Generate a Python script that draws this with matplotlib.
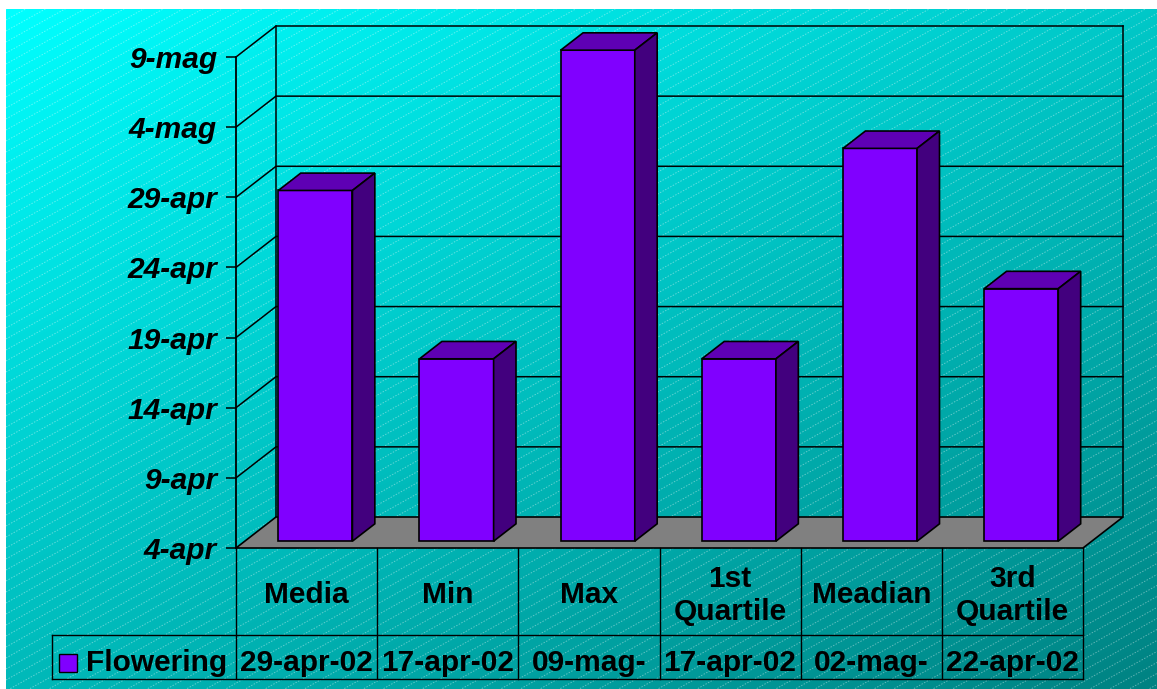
import numpy as np
import matplotlib
matplotlib.use("Agg")
import matplotlib.pyplot as plt
import matplotlib.dates as mdates
from matplotlib.patches import Polygon, Rectangle
from matplotlib.transforms import IdentityTransform
from matplotlib.lines import Line2D
from datetime import date, timedelta

# ---------------- data ----------------
categories = ["Media", "Min", "Max", "1st\nQuartile", "Meadian", "3rd\nQuartile"]
values = [date(2002, 4, 29), date(2002, 4, 17), date(2002, 5, 9),
          date(2002, 4, 17), date(2002, 5, 2), date(2002, 4, 22)]
table_labels = ["29-apr-02", "17-apr-02", "09-mag-", "17-apr-02", "02-mag-", "22-apr-02"]
series_name = "Flowering"
y_min = date(2002, 4, 4)
y_max = date(2002, 5, 9)
tick_step_days = 5
month_names = {4: "apr", 5: "mag"}

# ---------------- style / layout ----------------
W, H = 1157, 689
DPI = 100
FRONT_FACE = "#8000FF"
TOP_FACE = "#5E00B4"
SIDE_FACE = "#42007E"
FLOOR = "#808080"
DEPTH = (40, 31)          # pixel offset of the back wall
BAR_Z = (0.22, 0.78)      # bar front/back depth fraction
BAR_W = 0.525             # bar width in category units
FONT = "Liberation Sans"
FS = 21.5

fig = plt.figure(figsize=(W / DPI, H / DPI), dpi=DPI)
fig.patch.set_facecolor("white")

# background: diagonal gradient + dashed white stripes
bg = fig.add_axes([6 / W, 0, 1 - 6 / W, (H - 9) / H], zorder=0)
bw, bh = W - 6, H - 9
xx, yy = np.meshgrid(np.linspace(0, 1, 300), np.linspace(0, 1, 200))
c = (255 - 55 * xx - 70 * yy) / 255.0
img = np.dstack([np.zeros_like(c), c, c])
bg.imshow(img, extent=(0, bw, bh, 0), aspect="auto", interpolation="bilinear")
slope = 0.56
for k in np.arange(0, bh + bw * slope + 20, 11.0):
    xs = np.array([0, bw])
    bg.plot(xs, k - slope * xs, color="white", lw=0.7, alpha=0.38,
            ls=(0, (1.5, 1.5)))
bg.set_xlim(0, bw)
bg.set_ylim(bh, 0)
bg.axis("off")

# main (front plane) axes
left, right, top, bottom = 236, 1083, 57, 548
ax = fig.add_axes([left / W, (H - bottom) / H, (right - left) / W, (bottom - top) / H], zorder=1)
ax.patch.set_alpha(0)
n = len(categories)
ymin_n = mdates.date2num(y_min)
ymax_n = mdates.date2num(y_max)
ax.set_xlim(0, n)
ax.set_ylim(ymin_n, ymax_n)

ticks = []
d = y_min
while d <= y_max:
    ticks.append(d)
    d += timedelta(days=tick_step_days)
ax.set_yticks([mdates.date2num(t) for t in ticks])
ax.set_yticklabels([f"{t.day}-{month_names[t.month]}" for t in ticks],
                   fontfamily=FONT, fontweight="bold", fontstyle="italic", fontsize=FS)
ax.tick_params(axis="y", length=7.2, width=1.1, pad=6.5, direction="out")
ax.set_xticks([])
for s in ["top", "right", "bottom"]:
    ax.spines[s].set_visible(False)
ax.spines["left"].set_linewidth(1.3)


def proj(x, y, z):
    px, py = ax.transData.transform((x, y))
    return (px + DEPTH[0] * z, py + DEPTH[1] * z)


def poly(pts, fc, lw=1.2, zo=2):
    p = Polygon(pts, closed=True, facecolor=fc, edgecolor="black", lw=lw,
                transform=IdentityTransform(), clip_on=False, zorder=zo,
                joinstyle="miter")
    ax.add_artist(p)


def line(pts, lw=1.1, zo=1.5):
    xs, ys = zip(*pts)
    l = Line2D(xs, ys, color="black", lw=lw, transform=IdentityTransform(),
               clip_on=False, zorder=zo)
    ax.add_artist(l)


# walls & gridlines
for t in ticks[1:]:
    tn = mdates.date2num(t)
    line([proj(0, tn, 0), proj(0, tn, 1), proj(n, tn, 1)])
line([proj(0, ymin_n, 1), proj(0, ymax_n, 1)])
line([proj(n, ymin_n, 1), proj(n, ymax_n, 1)])

# floor
poly([proj(0, ymin_n, 0), proj(0, ymin_n, 1), proj(n, ymin_n, 1), proj(n, ymin_n, 0)],
     FLOOR, lw=1.2, zo=1.8)

# bars
z0, z1 = BAR_Z
for i, v in enumerate(values):
    vn = mdates.date2num(v)
    x0 = i + 0.5 - BAR_W / 2
    x1 = i + 0.5 + BAR_W / 2
    poly([proj(x0, ymin_n, z0), proj(x1, ymin_n, z0), proj(x1, vn, z0), proj(x0, vn, z0)],
         FRONT_FACE, zo=3)
    poly([proj(x0, vn, z0), proj(x1, vn, z0), proj(x1, vn, z1), proj(x0, vn, z1)],
         TOP_FACE, zo=3)
    poly([proj(x1, ymin_n, z0), proj(x1, ymin_n, z1), proj(x1, vn, z1), proj(x1, vn, z0)],
         SIDE_FACE, zo=3)

# data table
HEAD_H, ROW_H = 87, 44
LEG_LEFT = 52
bx, by = ax.transData.transform((0, ymin_n))
y_head = by - HEAD_H
y_row = y_head - ROW_H
x_end = ax.transData.transform((n, ymin_n))[0]
for i in range(n + 1):
    px, _ = ax.transData.transform((i, ymin_n))
    line([(px, by), (px, y_row)], lw=1.0, zo=2)
line([(LEG_LEFT, y_head), (x_end, y_head)], lw=1.0, zo=2)
line([(LEG_LEFT, y_row), (x_end, y_row)], lw=1.0, zo=2)
line([(LEG_LEFT, y_head), (LEG_LEFT, y_row)], lw=1.0, zo=2)

for i, (cat, lab) in enumerate(zip(categories, table_labels)):
    cx, _ = ax.transData.transform((i + 0.5, ymin_n))
    ax.text(cx, (by + y_head) / 2 - 4, cat, transform=IdentityTransform(), ha="center",
            va="center", fontfamily=FONT, fontweight="bold", fontsize=FS,
            linespacing=1.2, clip_on=False, zorder=4)
    ax.text(cx, (y_head + y_row) / 2 - 6, lab, transform=IdentityTransform(), ha="center",
            va="center", fontfamily=FONT, fontweight="bold", fontsize=FS,
            clip_on=False, zorder=4)

# legend key in the table
ky = (y_head + y_row) / 2 - 6
ax.add_artist(Rectangle((59, ky - 9), 18, 18, facecolor=FRONT_FACE, edgecolor="black",
                        lw=1.0, transform=IdentityTransform(), clip_on=False, zorder=4))
ax.text(86, ky, series_name, transform=IdentityTransform(), ha="left", va="center",
        fontfamily=FONT, fontweight="bold", fontsize=FS, clip_on=False, zorder=4)

fig.savefig("out.png", dpi=DPI)
